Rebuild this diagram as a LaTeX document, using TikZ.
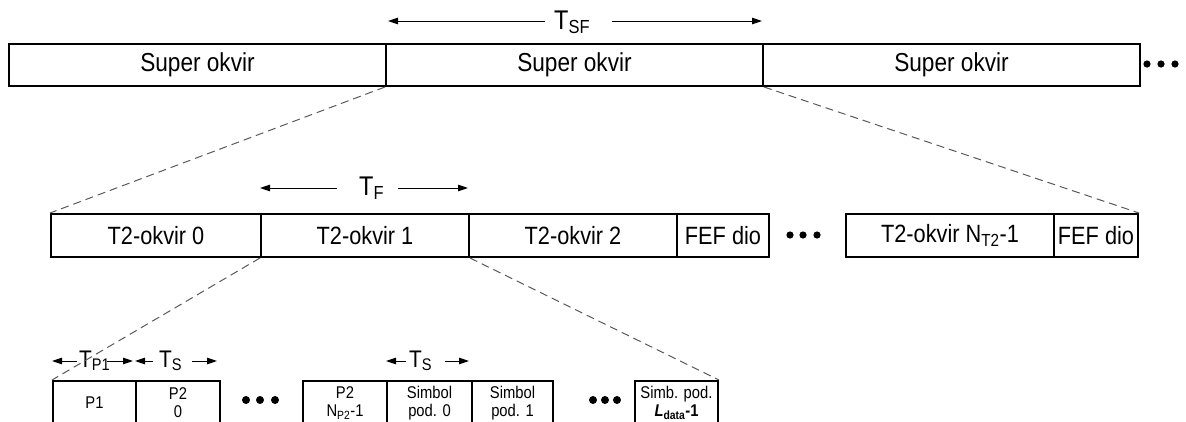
\documentclass[tikz,border=0pt]{standalone}
\usepackage{fontspec}
\setmainfont{Liberation Sans}[FakeStretch=0.87]
\usetikzlibrary{arrows.meta}

\begin{document}
\begin{tikzpicture}[x=1pt,y=-1pt,>={Triangle[length=10pt,width=6.5pt]},
    kuang/.style={draw,line width=2pt,inner sep=0pt,anchor=north west,fill=white,align=center},
    xuxian/.style={dash pattern=on 8pt off 5pt,draw=black!65,line width=1pt},
    jiantou/.style={->,line width=1pt},
    biaoqian/.style={inner sep=0pt,anchor=base west}]
    \useasboundingbox (0,0) rectangle (1186,421);%图的大小
    % 第一行：超帧
    \foreach \i/\xa in {1/8,2/385,3/762}
    {
        \node[kuang,minimum width=377pt,minimum height=42pt,font=\fontsize{26}{29}\selectfont] (so\i) at (\xa,43) {Super okvir};
    }
    \foreach \x in {1147,1161,1175}%省略号
    {
        \fill (\x,64) circle (3.6);
    }
    \node[biaoqian,font=\fontsize{27}{30}\selectfont] (tsf) at (554,29) {T\textsubscript{SF}};
    \coordinate (sfA) at (545,21); \coordinate (sfL) at (388,21);
    \coordinate (sfB) at (612,21); \coordinate (sfR) at (762,21);
    \draw[jiantou] (sfA)--(sfL);
    \draw[jiantou] (sfB)--(sfR);
    % 第二行：T2帧
    \begin{scope}[every node/.style={kuang,minimum height=43pt,font=\fontsize{25}{28}\selectfont}]
        \node[minimum width=210pt] (t0) at (50,213) {T2-okvir 0};
        \node[minimum width=208pt] (t1) at (260,213) {T2-okvir 1};
        \node[minimum width=208pt] (t2) at (468,213) {T2-okvir 2};
        \node[minimum width=92pt] (fefA) at (676,213) {FEF dio};
        \node[minimum width=208pt] (tN) at (845,213) {T2-okvir N\textsubscript{T2}-1};
        \node[minimum width=84pt] (fefB) at (1053,213) {FEF dio};
    \end{scope}
    \foreach \x in {790,803,817}
    {
        \fill (\x,235) circle (3.6);
    }
    \node[biaoqian,font=\fontsize{27}{30}\selectfont] (tf) at (359,195) {T\textsubscript{F}};
    \coordinate (fA) at (337,188); \coordinate (fL) at (260,188);
    \coordinate (fB) at (398,188); \coordinate (fR) at (468,188);
    \draw[jiantou] (fA)--(fL);
    \draw[jiantou] (fB)--(fR);
    % 第三行：OFDM符号
    \begin{scope}[every node/.style={kuang,minimum height=44pt,font=\fontsize{17}{18}\selectfont}]
        \node[minimum width=83pt] (p1) at (52,380) {P1};
        \node[minimum width=84pt] (p20) at (135,380) {P2\\0};
        \node[minimum width=84pt] (p2n) at (302,380) {P2\\N\textsubscript{P2}-1};
        \node[minimum width=85pt] (s0) at (386,380) {Simbol\\pod. 0};
        \node[minimum width=81pt] (s1) at (471,380) {Simbol\\pod. 1};
        \node[minimum width=83pt] (sl) at (634,380) {Simb. pod.\\\textbf{\textit{L}\textsubscript{data}-1}};
    \end{scope}
    \foreach \x in {246,260,275,593,605,617}
    {
        \fill (\x,400) circle (4);
    }
    \node[biaoqian,font=\fontsize{24}{27}\selectfont] (tp1) at (79,367) {T\textsubscript{P1}};
    \node[biaoqian,font=\fontsize{24}{27}\selectfont] (ts1) at (159,367) {T\textsubscript{S}};
    \node[biaoqian,font=\fontsize{24}{27}\selectfont] (ts2) at (409,367) {T\textsubscript{S}};
    \coordinate (pA) at (77,361); \coordinate (pL) at (52,361);
    \coordinate (pB) at (107,361); \coordinate (pR) at (133,361);
    \coordinate (sA) at (153,361); \coordinate (sL) at (135,361);
    \coordinate (sB) at (192,361); \coordinate (sR) at (217,361);
    \coordinate (uA) at (406,361); \coordinate (uL) at (386,361);
    \coordinate (uB) at (445,361); \coordinate (uR) at (469,361);
    \draw[jiantou] (pA)--(pL);
    \draw[jiantou] (pB)--(pR);
    \draw[jiantou] (sA)--(sL);
    \draw[jiantou] (sB)--(sR);
    \draw[jiantou] (uA)--(uL);
    \draw[jiantou] (uB)--(uR);
    % 虚线：放大关系
    \draw[xuxian] (so2.south west)--(t0.north west);
    \draw[xuxian] (so2.south east)--(fefB.north east);
    \draw[xuxian] (t1.south west)--(p1.north west);
    \draw[xuxian] (t1.south east)--(sl.north east);
\end{tikzpicture}
\end{document}
